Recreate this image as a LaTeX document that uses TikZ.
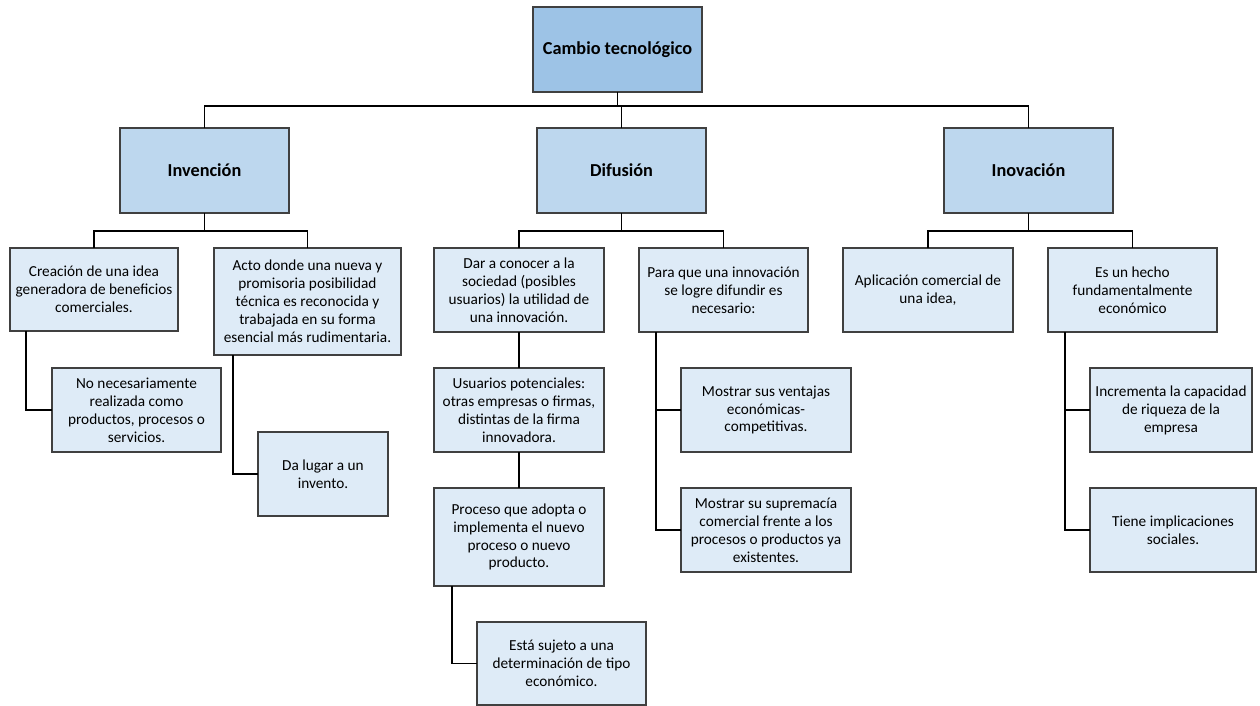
\documentclass[tikz,border=0pt]{standalone}
\usepackage{fontspec}
\setmainfont{Carlito}
\definecolor{rootfill}{HTML}{9DC3E6}
\definecolor{midfill}{HTML}{BDD7EE}
\definecolor{leaffill}{HTML}{DEEBF7}
\definecolor{edge}{HTML}{404040}
\tikzset{
  base/.style={draw=edge, line width=0.6pt, inner xsep=1pt, inner ysep=0pt, outer sep=0pt, align=center, font=\fontsize{8.7}{10.2}\selectfont},
  rootbox/.style={base, fill=rootfill, font=\fontsize{10.4}{12}\selectfont\bfseries},
  midbox/.style={base, fill=midfill, font=\fontsize{10.4}{12}\selectfont\bfseries},
  leafbox/.style={base, fill=leaffill},
  link/.style={draw=black, line width=0.7pt}
}
\newcommand\bx[7]{%
  \pgfmathsetlengthmacro\bw{(#4-#2)*0.02cm}%
  \pgfmathsetlengthmacro\bh{(#5-#3)*0.02cm}%
  \node[#6, minimum width=\bw, minimum height=\bh] (#1) at ({(#2+#4)/2},{(#3+#5)/2}) {#7};}
\begin{document}
\begin{tikzpicture}[x=0.02cm,y=-0.02cm]
\useasboundingbox (0,0) rectangle (1260,706);
% boxes
\bx{root}{533}{7}{702}{92}{rootbox}{Cambio tecnológico}
\bx{inv}{120}{128}{289}{213}{midbox}{Invención}
\bx{dif}{537}{128}{706}{213}{midbox}{Difusión}
\bx{inn}{944}{128}{1113}{213}{midbox}{Inovación}
\bx{cre}{10}{248}{178}{331}{leafbox}{Creación de una idea\\generadora de beneficios\\comerciales.}
\bx{acto}{214}{248}{401}{355}{leafbox}{Acto donde una nueva y\\promisoria posibilidad\\técnica es reconocida y\\trabajada en su forma\\esencial más rudimentaria.}
\bx{nonec}{52}{368}{221}{452}{leafbox}{No necesariamente\\realizada como\\productos, procesos o\\servicios.}
\bx{dalugar}{258}{432}{388}{516}{leafbox}{Da lugar a un\\invento.}
\bx{dar}{434}{248}{604}{332}{leafbox}{Dar a conocer a la\\sociedad (posibles\\usuarios) la utilidad de\\una innovación.}
\bx{usu}{434}{368}{604}{452}{leafbox}{Usuarios potenciales:\\otras empresas o firmas,\\distintas de la firma\\innovadora.}
\bx{proc}{434}{488}{604}{586}{leafbox}{Proceso que adopta o\\implementa el nuevo\\proceso o nuevo\\producto.}
\bx{esta}{477}{622}{646}{705}{leafbox}{Está sujeto a una\\determinación de tipo\\económico.}
\bx{para}{639}{248}{808}{332}{leafbox}{Para que una innovación\\se logre difundir es\\necesario:}
\bx{vent}{681}{368}{851}{452}{leafbox}{Mostrar sus ventajas\\económicas-\\competitivas.}
\bx{sup}{681}{488}{851}{572}{leafbox}{Mostrar su supremacía\\comercial frente a los\\procesos o productos ya\\existentes.}
\bx{apl}{843}{248}{1013}{332}{leafbox}{Aplicación comercial de\\una idea,}
\bx{hecho}{1048}{248}{1217}{332}{leafbox}{Es un hecho\\fundamentalmente\\económico}
\bx{inc}{1090}{368}{1252}{452}{leafbox}{Incrementa la capacidad\\de riqueza de la\\empresa}
\bx{tiene}{1090}{488}{1256}{572}{leafbox}{Tiene implicaciones\\sociales.}
% bus coordinates
\coordinate (b1) at (617.5,106);
\coordinate (b2) at (204.5,231);
\coordinate (b3) at (621.5,231);
\coordinate (b4) at (1028.5,231);
\coordinate (c1) at (26,0);
\coordinate (c2) at (233,0);
\coordinate (c3) at (452,0);
\coordinate (c4) at (656,0);
\coordinate (c5) at (1065,0);
% connectors
\draw[link] (root.south) -- (b1);
\draw[link] (inv.north) |- (b1) -| (inn.north);
\draw[link] (dif.north) -- (dif.north |- b1);
\draw[link] (inv.south) -- (b2);
\draw[link] (cre.north) |- (b2) -| (acto.north);
\draw[link] (dif.south) -- (b3);
\draw[link] (dar.north) |- (b3) -| (para.north);
\draw[link] (inn.south) -- (b4);
\draw[link] (apl.north) |- (b4) -| (hecho.north);
\draw[link] (cre.south -| c1) |- (nonec.west);
\draw[link] (acto.south -| c2) |- (dalugar.west);
\draw[link] (dar.south) -- (usu.north);
\draw[link] (usu.south) -- (proc.north);
\draw[link] (proc.south -| c3) |- (esta.west);
\draw[link] (para.south -| c4) |- (vent.west);
\draw[link] (para.south -| c4) |- (sup.west);
\draw[link] (hecho.south -| c5) |- (inc.west);
\draw[link] (hecho.south -| c5) |- (tiene.west);
\end{tikzpicture}
\end{document}
